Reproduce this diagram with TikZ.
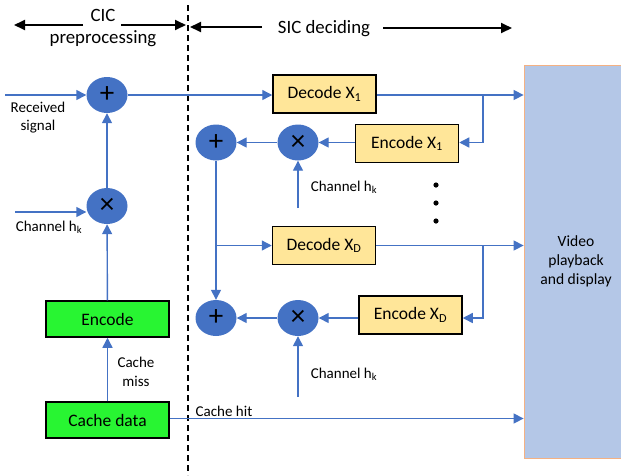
\documentclass[tikz,border=0pt]{standalone}
\usepackage{fontspec}
\setmainfont{Carlito}
\usetikzlibrary{arrows.meta,shapes.geometric}

\definecolor{flowblue}{HTML}{4472C4}
\definecolor{boxyellow}{HTML}{FFE699}
\definecolor{boxgreen}{RGB}{40,245,50}
\definecolor{panelblue}{HTML}{B4C7E7}
\definecolor{panelrim}{HTML}{F4B183}

\tikzset{
  sumnode/.style={ellipse, fill=flowblue, minimum width=41pt, minimum height=36pt,
    inner sep=0pt, font=\fontsize{29}{29}\selectfont},
  ybox/.style={rectangle, fill=boxyellow, draw=black, line width=1.5pt,
    minimum width=103pt, minimum height=38pt, inner sep=0pt,
    font=\fontsize{17.5}{20}\selectfont},
  gbox/.style={rectangle, fill=boxgreen, draw=black, line width=1.5pt,
    minimum width=123pt, minimum height=36pt, inner sep=0pt,
    font=\fontsize{17.5}{20}\selectfont},
  flow/.style={draw=flowblue, line width=1.4pt,
    -{Triangle[length=10pt,width=10pt]}},
  lbl/.style={font=\fontsize{15}{18.5}\selectfont, align=center, inner sep=0pt},
  phase/.style={draw=black, line width=1.8pt, -{Triangle[length=11pt,width=10pt]}},
  phasetext/.style={font=\fontsize{18.8}{22.5}\selectfont, align=center, inner sep=0pt},
}

\begin{document}
\begin{tikzpicture}[x=1pt,y=-1pt]
\path[use as bounding box] (0,0) rectangle (621,475);

% display panel on the right
\node[rectangle, fill=panelblue, draw=panelrim, line width=0.8pt,
  minimum width=104pt, minimum height=393pt, inner sep=0pt,
  font=\fontsize{15.6}{19}\selectfont, align=center] (vid) at (576,261.5)
  {Video\\playback\\and display};

% phase divider and headings
\draw[black, line width=1.5pt, dash pattern=on 6pt off 4pt] (188,5) -- (188,475);
\node[phasetext] (cic) at (103,28) {CIC\\preprocessing};
\node[phasetext] (sic) at (324,29) {SIC deciding};
\coordinate (cicL) at (83,25);
\coordinate (cicLtip) at (14,25);
\coordinate (cicR) at (121,25);
\coordinate (cicRtip) at (186,25);
\coordinate (sicL) at (262,27);
\coordinate (sicLtip) at (190,27);
\coordinate (sicR) at (383,28);
\coordinate (sicRtip) at (512,28);
\draw[phase] (cicL) -- (cicLtip);
\draw[phase] (cicR) -- (cicRtip);
\draw[phase] (sicL) -- (sicLtip);
\draw[phase] (sicR) -- (sicRtip);

% CIC side
\node[sumnode] (p0) at (107,95) {+};
\node[sumnode] (m0) at (107,206) {×};
\node[gbox] (enc) at (107.5,319) {Encode};
\node[gbox] (cache) at (107.5,420) {Cache data};

\coordinate (rs) at (5,95);
\coordinate (ch0) at (15,212);
\draw[flow] (rs) -- (p0);
\draw[flow] (ch0) -- (ch0 -| m0.west);
\draw[flow] (m0) -- (p0);
\draw[flow] (enc) -- (m0);
\draw[flow] (cache) -- (enc);

\node[lbl] (rslbl) at (38,117.5) {Received\\signal};
\node[lbl] (ch0lbl) at (49,227) {Channel h\textsubscript{k}};
\node[lbl] (misslbl) at (136,372) {Cache\\miss};

% SIC side: first layer
\node[ybox] (d1) at (324.5,94) {Decode X\textsubscript{1}};
\node[ybox] (e1) at (407,143.5) {Encode X\textsubscript{1}};
\node[sumnode] (m1) at (298,142.5) {×};
\node[sumnode] (p1) at (216,142.5) {+};

\draw[flow] (p0) -- (p0 -| d1.west);
\draw[flow] (p0 -| d1.east) -- (p0 -| vid.west);
\coordinate (b1) at (483,95);
\draw[flow] (b1) |- (m1 -| e1.east);
\draw[flow] (m1 -| e1.west) -- (m1);
\draw[flow] (m1) -- (p1);
\coordinate (c1) at (298,208);
\draw[flow] (c1) -- (m1);
\node[lbl] (c1lbl) at (344,187) {Channel h\textsubscript{k}};

\fill (436,185) circle (2.6pt) (436,203) circle (2.6pt) (436,221) circle (2.6pt);

% SIC side: last layer
\node[ybox] (dD) at (324,245.5) {Decode X\textsubscript{D}};
\node[ybox] (eD) at (410.5,315) {Encode X\textsubscript{D}};
\node[sumnode] (mD) at (298,318) {×};
\node[sumnode] (pD) at (216,318) {+};

\draw[flow] (p1) -- (pD);
\draw[flow] (p1 |- dD) -- (dD);
\draw[flow] (dD) -- (dD -| vid.west);
\coordinate (b2) at (483,245.5);
\draw[flow] (b2) |- (mD -| eD.east);
\draw[flow] (mD -| eD.west) -- (mD);
\draw[flow] (mD) -- (pD);
\coordinate (c2) at (298,397);
\draw[flow] (c2) -- (mD);
\node[lbl] (c2lbl) at (344,374) {Channel h\textsubscript{k}};

% cache hit bypass
\draw[flow] ([yshift=1.5pt]cache.east) -- ([yshift=1.5pt]cache.east -| vid.west);
\node[lbl] (hitlbl) at (224,411) {Cache hit};
\end{tikzpicture}
\end{document}
